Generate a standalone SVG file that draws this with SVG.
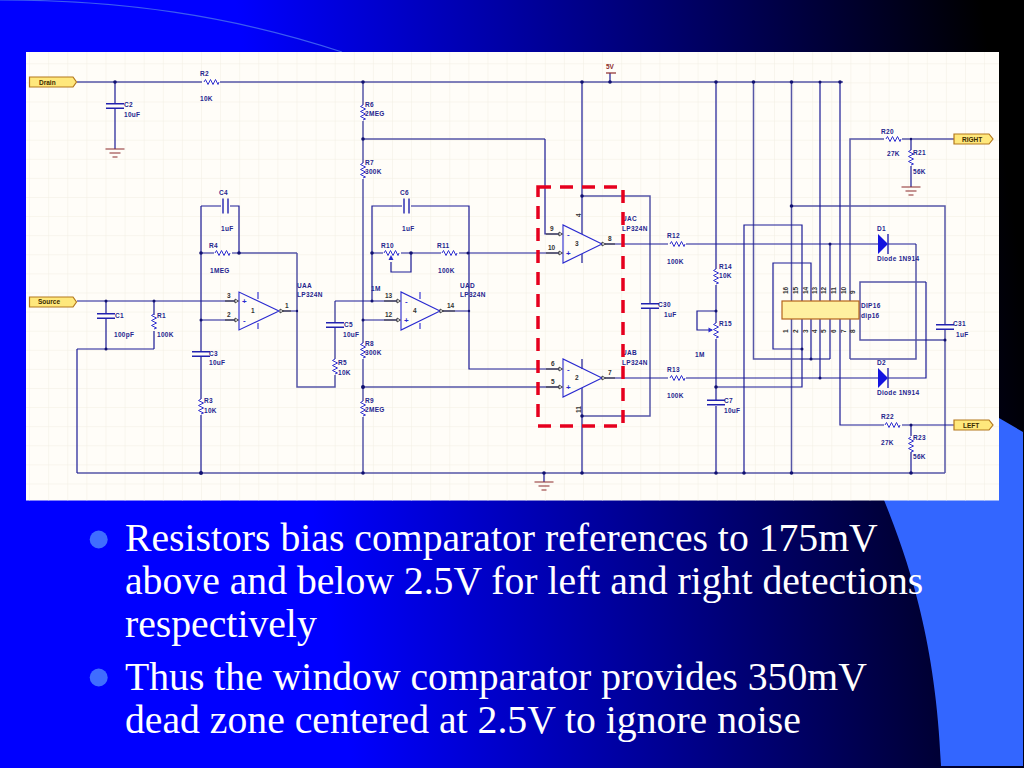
<svg xmlns="http://www.w3.org/2000/svg" width="1024" height="768" viewBox="0 0 1024 768">
<style>
.w{fill:none;stroke:#1c1c96;stroke-width:1.2}
.l{fill:none;stroke:#5656a6;stroke-width:1.5}
.p{fill:none;stroke:#333;stroke-width:1}
.o{fill:none;stroke:#2a2ad0;stroke-width:1.1}
.g{fill:none;stroke:#8c2a2a;stroke-width:1.2}
.c{fill:none;stroke:#2222b0;stroke-width:1.4}
.r{fill:none;stroke:#3030d0;stroke-width:1}
.d{fill:#101070}
.t{font:6.5px "Liberation Sans",Arial,sans-serif;font-weight:bold;fill:#25258e;letter-spacing:.3px}
.n{font:6.5px "Liberation Sans",Arial,sans-serif;font-weight:bold;fill:#333}
.m{font:bold 8px "Liberation Sans",Arial,sans-serif;fill:#2a2ad0}
.y{fill:#ffe87c;stroke:#b4781c;stroke-width:1.2}
.b{font:bold 6.5px "Liberation Sans",Arial,sans-serif;fill:#3a2a00}
.s{font:39.7px "Liberation Serif","Times New Roman",serif;fill:#fff}
</style>
<defs>
<linearGradient id="bg" gradientUnits="userSpaceOnUse" x1="280" y1="300" x2="1010" y2="190">
<stop offset="0" stop-color="#0000ff"/><stop offset="1" stop-color="#000000"/>
</linearGradient>
<pattern id="grid" patternUnits="userSpaceOnUse" x="10" y="6" width="19.1" height="19.1">
<path d="M0 0H19.1M0 0V19.1" fill="none" stroke="#f1eee2" stroke-width="1"/>
</pattern>
<g id="rh"><path class="r" d="M-7 0l1.5-2.5 2.5 5 2.5-5 2.5 5 2.5-5 2.5 5 1 -2.5"/></g>
<g id="rv"><path class="r" d="M0-7l-2.5 1.5 5 2.5-5 2.5 5 2.5-5 2.5 5 2.5-2.5 1"/></g>
<g id="cv"><path class="c" d="M-9-2.2H9M-9 2.2H9"/></g>
<g id="ch"><path class="c" d="M-2.5-7.5V7.5M2.5-7.5V7.5"/></g>
<g id="gnd"><path class="g" d="M-9.5 0H9.5M-5.5 4H5.5M-2.5 8H2.5"/></g>
<g id="pin"><path d="M0-2L3.5 0 0 2Z" fill="#fff" stroke="#222" stroke-width=".8"/></g>
</defs>

<g id="background">
<rect width="1024" height="768" fill="url(#bg)"/>
<path d="M884 500C908 560 936 640 941 766H1023V432L999 418V500Z" fill="#3366ff"/>
<path d="M0 0C120 0 230 15 342 52" fill="none" stroke="#3c5cf0" stroke-width="1.2"/>
</g>

<g id="panel">
<rect x="26" y="52" width="973" height="448.500" fill="#fffdf8"/>
<rect x="26" y="52" width="973" height="448.500" fill="url(#grid)"/>
</g>

<g id="connectors">
<path class="l" d="M77 82H843M850 359V139H954M916 244V359H850M753.500 82V359H830M791.500 82V473M363 139H545M791.500 206H945V473M297 253V387H335V301M363 387H560M77 473H945M582 196H650V416H582M239 253H297M363 82V473M926 282H860V340H945"/>
<path class="w" d="M77 301H237M106 301V349M154 301V349M77 349H154M77 349V473M115 82V149M201 206V473M201 206H239V253M201 253H239M201 320H237M297 311H280M335 301H398M372 301V206H469V369H560M363 320H398M545 139V234H560M372 253H560M411 253V272H391V262M440 311H469M582 82V234M582 254V263M582 359V369M582 388V473M605 244H878M888 244H916M605 378H878M888 378H926V282M716 82V473M716 311H697V330H712M716 387H802V319M744 473V225H802V301M811 301V263H773V349H802M811 319V359M820 82V378M830 244V301M830 319V359M840 82V425H954M911 139V187M911 425V473M610 82V73M544 473V482"/>
<path class="p" d="M225 301H237M225 320H237M280 311H291M384 301H398M384 320H398M440 311H455M546 234H560M546 253H560M605 244H615M546 369H560M546 387H560M605 378H615"/>
</g>

<g id="junctions" class="d">
<circle cx="115" cy="82" r="1.800"/><circle cx="363" cy="82" r="1.800"/><circle cx="582" cy="82" r="1.800"/><circle cx="610" cy="82" r="1.800"/><circle cx="716" cy="82" r="1.800"/><circle cx="753.500" cy="82" r="1.800"/><circle cx="791.500" cy="82" r="1.800"/><circle cx="820" cy="82" r="1.500"/><circle cx="840" cy="82" r="1.800"/>
<circle cx="106" cy="301" r="1.500"/><circle cx="154" cy="301" r="1.500"/><circle cx="106" cy="349" r="1.500"/><circle cx="201" cy="253" r="1.800"/><circle cx="239" cy="253" r="1.800"/><circle cx="201" cy="320" r="1.500"/><circle cx="297" cy="311" r="1.200"/>
<circle cx="201" cy="473" r="2"/><circle cx="363" cy="473" r="1.800"/><circle cx="544" cy="473" r="1.800"/><circle cx="582" cy="473" r="1.800"/><circle cx="716" cy="473" r="1.800"/><circle cx="744" cy="473" r="1.800"/><circle cx="791.500" cy="473" r="1.800"/><circle cx="911" cy="473" r="1.800"/>
<circle cx="363" cy="139" r="1.800"/><circle cx="363" cy="320" r="1.500"/><circle cx="363" cy="387" r="2"/><circle cx="372" cy="301" r="1.500"/><circle cx="372" cy="253" r="1.800"/><circle cx="411" cy="253" r="1.800"/><circle cx="468" cy="253" r="1.500"/><circle cx="469" cy="311" r="1.200"/>
<circle cx="582" cy="196" r="1.800"/><circle cx="582" cy="416" r="1.800"/><circle cx="716" cy="311" r="1.500"/><circle cx="716" cy="387" r="1.800"/><circle cx="791.500" cy="206" r="1.800"/><circle cx="830" cy="244" r="1.500"/><circle cx="820" cy="378" r="1.500"/><circle cx="811" cy="359" r="1.500"/><circle cx="802" cy="349" r="1.500"/><circle cx="945" cy="340" r="1.500"/><circle cx="911" cy="425" r="1.500"/><circle cx="911" cy="139" r="1.200"/>
</g>

<g id="Drain"><path class="y" d="M29.500 77H73L76.500 82 73 87H29.500Z"/><text class="b" x="39" y="85">Drain</text></g>
<g id="Source"><path class="y" d="M29.500 297H73L76.500 302 73 307H29.500Z"/><text class="b" x="38" y="304">Source</text></g>
<g id="RIGHT"><path class="y" d="M954 134H989L993 139 989 144H954Z"/><text class="b" x="962" y="142">RIGHT</text></g>
<g id="LEFT"><path class="y" d="M954 420H989L993 425 989 430H954Z"/><text class="b" x="963" y="428">LEFT</text></g>

<g id="V5"><path class="g" d="M606 73H616"/><text x="606" y="69" style="font:bold 6.500px 'Liberation Sans',sans-serif;fill:#8c2a2a">5V</text></g>
<use id="GND1" href="#gnd" x="115" y="149"/>
<use id="GND2" href="#gnd" x="911" y="187"/>
<use id="GND3" href="#gnd" x="544" y="482"/>

<g id="R2"><rect x="202" y="80" width="18" height="4" fill="#fffdf8"/><use href="#rh" x="211" y="82"/><text class="t" x="200" y="76">R2</text><text class="t" x="200" y="101">10K</text></g>
<g id="C2"><rect x="113" y="103" width="4" height="6" fill="#fffdf8"/><use href="#cv" x="115" y="106"/><text class="t" x="124" y="107">C2</text><text class="t" x="124" y="117">10uF</text></g>
<g id="C4"><rect x="221" y="204" width="9" height="4" fill="#fffdf8"/><use href="#ch" x="225.500" y="206"/><text class="t" x="219" y="195">C4</text><text class="t" x="221" y="231">1uF</text></g>
<g id="R4"><rect x="214" y="251" width="18" height="4" fill="#fffdf8"/><use href="#rh" x="222" y="253"/><text class="t" x="209" y="248">R4</text><text class="t" x="210" y="273">1MEG</text></g>
<g id="C1"><rect x="104" y="314" width="4" height="5" fill="#fffdf8"/><use href="#cv" x="106" y="316"/><text class="t" x="115" y="318">C1</text><text class="t" x="114" y="337">100pF</text></g>
<g id="R1"><rect x="152" y="315" width="4" height="16" fill="#fffdf8"/><use href="#rv" x="154" y="321"/><text class="t" x="157" y="318">R1</text><text class="t" x="157" y="337">100K</text></g>
<g id="C3"><rect x="199" y="351" width="4" height="6" fill="#fffdf8"/><use href="#cv" x="201" y="354"/><text class="t" x="209" y="356">C3</text><text class="t" x="209" y="365">10uF</text></g>
<g id="R3"><rect x="199" y="399" width="4" height="16" fill="#fffdf8"/><use href="#rv" x="201" y="406"/><text class="t" x="204" y="403">R3</text><text class="t" x="204" y="413">10K</text></g>
<g id="C5"><rect x="333" y="323" width="4" height="5" fill="#fffdf8"/><use href="#cv" x="335" y="325"/><text class="t" x="344" y="327">C5</text><text class="t" x="343" y="337">10uF</text></g>
<g id="R5"><rect x="333" y="359" width="4" height="16" fill="#fffdf8"/><use href="#rv" x="335" y="366"/><text class="t" x="338" y="365">R5</text><text class="t" x="338" y="375">10K</text></g>
<g id="R6"><rect x="361" y="105" width="4" height="16" fill="#fffdf8"/><use href="#rv" x="363" y="112"/><text class="t" x="365" y="107">R6</text><text class="t" x="365" y="116">2MEG</text></g>
<g id="R7"><rect x="361" y="163" width="4" height="16" fill="#fffdf8"/><use href="#rv" x="363" y="170"/><text class="t" x="365" y="165">R7</text><text class="t" x="365" y="174">300K</text></g>
<g id="R8"><rect x="361" y="343" width="4" height="16" fill="#fffdf8"/><use href="#rv" x="363" y="350"/><text class="t" x="365" y="346">R8</text><text class="t" x="365" y="355">300K</text></g>
<g id="R9"><rect x="361" y="401" width="4" height="16" fill="#fffdf8"/><use href="#rv" x="363" y="408"/><text class="t" x="365" y="403">R9</text><text class="t" x="365" y="412">2MEG</text></g>
<g id="C6"><rect x="402" y="204" width="9" height="4" fill="#fffdf8"/><use href="#ch" x="406.500" y="206"/><text class="t" x="400" y="195">C6</text><text class="t" x="402" y="231">1uF</text></g>
<g id="R10"><rect x="383" y="251" width="18" height="4" fill="#fffdf8"/><use href="#rh" x="391" y="253"/><path d="M391 255L388.500 260H393.500Z" fill="#2a2ad0"/><text class="t" x="381" y="248">R10</text></g>
<g id="R11"><rect x="441" y="251" width="18" height="4" fill="#fffdf8"/><use href="#rh" x="449" y="253"/><text class="t" x="437" y="248">R11</text><text class="t" x="438" y="273">100K</text></g>
<text id="R_1M" class="t" x="371" y="291">1M</text>
<g id="C30"><rect x="648" y="304" width="4" height="5" fill="#fffdf8"/><use href="#cv" x="650" y="306"/><text class="t" x="658" y="307">C30</text><text class="t" x="664" y="317">1uF</text></g>
<g id="R12"><rect x="668" y="242" width="18" height="4" fill="#fffdf8"/><use href="#rh" x="677" y="244"/><text class="t" x="667" y="238">R12</text><text class="t" x="667" y="264">100K</text></g>
<g id="R13"><rect x="668" y="376" width="18" height="4" fill="#fffdf8"/><use href="#rh" x="677" y="378"/><text class="t" x="667" y="372">R13</text><text class="t" x="667" y="398">100K</text></g>
<g id="R14"><rect x="714" y="269" width="4" height="16" fill="#fffdf8"/><use href="#rv" x="716" y="276"/><text class="t" x="719" y="269">R14</text><text class="t" x="719" y="278">10K</text></g>
<g id="R15"><rect x="714" y="323" width="4" height="16" fill="#fffdf8"/><use href="#rv" x="716" y="330"/><path d="M713 330L708.500 327.500V332.500Z" fill="#2a2ad0"/><text class="t" x="719" y="326">R15</text><text class="t" x="695" y="357">1M</text></g>
<g id="C7"><rect x="714" y="400" width="4" height="6" fill="#fffdf8"/><use href="#cv" x="716" y="402.500"/><text class="t" x="724" y="403">C7</text><text class="t" x="724" y="413">10uF</text></g>
<g id="R20"><rect x="884" y="137" width="18" height="4" fill="#fffdf8"/><use href="#rh" x="893" y="139"/><text class="t" x="881" y="134">R20</text><text class="t" x="887" y="156">27K</text></g>
<g id="R21"><rect x="909" y="150" width="4" height="16" fill="#fffdf8"/><use href="#rv" x="911" y="157"/><text class="t" x="913" y="155">R21</text><text class="t" x="913" y="174">56K</text></g>
<g id="R22"><rect x="884" y="423" width="18" height="4" fill="#fffdf8"/><use href="#rh" x="892" y="425"/><text class="t" x="881" y="419">R22</text><text class="t" x="881" y="445">27K</text></g>
<g id="R23"><rect x="909" y="436" width="4" height="16" fill="#fffdf8"/><use href="#rv" x="911" y="444"/><text class="t" x="913" y="440">R23</text><text class="t" x="913" y="459">56K</text></g>
<g id="C31"><rect x="943" y="325" width="4" height="5" fill="#fffdf8"/><use href="#cv" x="945" y="327"/><text class="t" x="953" y="326">C31</text><text class="t" x="956" y="337">1uF</text></g>

<g id="D1"><path d="M878 234L888 244 878 254Z" fill="#1414e0"/><path class="c" d="M888 234V254"/><text class="t" x="877" y="231">D1</text><text class="t" x="877" y="261">Diode 1N914</text></g>
<g id="D2"><path d="M878 368L888 378 878 388Z" fill="#1414e0"/><path class="c" d="M888 368V388"/><text class="t" x="877" y="365">D2</text><text class="t" x="877" y="395">Diode 1N914</text></g>

<g id="UAA"><path class="o" d="M239 292V330L279 311ZM258 292V299M258 323V329"/><use href="#pin" x="235" y="301"/><use href="#pin" x="235" y="320"/><use href="#pin" x="280" y="311"/><text class="m" x="242" y="304">+</text><text class="m" x="243" y="323">-</text><text class="n" x="251" y="313">1</text><text class="n" x="227" y="298">3</text><text class="n" x="227" y="317">2</text><text class="n" x="285" y="308">1</text><text class="t" x="297" y="288">UAA</text><text class="t" x="297" y="297">LP324N</text></g>
<g id="UAD"><path class="o" d="M401 292V330L440 311ZM420 292V299M420 323V329"/><use href="#pin" x="397" y="301"/><use href="#pin" x="397" y="320"/><use href="#pin" x="440" y="311"/><text class="m" x="405" y="304">-</text><text class="m" x="404" y="323">+</text><text class="n" x="413" y="313">4</text><text class="n" x="385" y="298">13</text><text class="n" x="385" y="317">12</text><text class="n" x="447" y="308">14</text><text class="t" x="460" y="288">UAD</text><text class="t" x="460" y="297">LP324N</text></g>
<g id="UAC"><path class="o" d="M563 225V263L602 244Z"/><use href="#pin" x="559" y="234"/><use href="#pin" x="559" y="253"/><use href="#pin" x="602" y="244"/><text class="m" x="567" y="237">-</text><text class="m" x="566" y="256">+</text><text class="n" x="575" y="246">3</text><text class="n" x="550" y="231">9</text><text class="n" x="548" y="250">10</text><text class="n" x="608" y="241">8</text><text class="n" transform="translate(581 217) rotate(-90)">4</text><text class="t" x="622" y="221">UAC</text><text class="t" x="622" y="231">LP324N</text></g>
<g id="UAB"><path class="o" d="M563 359V397L602 378Z"/><use href="#pin" x="559" y="369"/><use href="#pin" x="559" y="387"/><use href="#pin" x="602" y="378"/><text class="m" x="567" y="372">-</text><text class="m" x="566" y="390">+</text><text class="n" x="575" y="380">2</text><text class="n" x="551" y="366">6</text><text class="n" x="551" y="384">5</text><text class="n" x="608" y="375">7</text><text class="n" transform="translate(581 413) rotate(-90)">11</text><text class="t" x="622" y="355">UAB</text><text class="t" x="622" y="365">LP324N</text></g>

<g id="DIP16"><rect x="782" y="301" width="77" height="18" fill="#fff0a0" stroke="#b4641c" stroke-width="1.200"/>
<g class="n"><text transform="translate(788 294) rotate(-90)">16</text><text transform="translate(798 294) rotate(-90)">15</text><text transform="translate(808 294) rotate(-90)">14</text><text transform="translate(817 294) rotate(-90)">13</text><text transform="translate(826 294) rotate(-90)">12</text><text transform="translate(836 294) rotate(-90)">11</text><text transform="translate(846 294) rotate(-90)">10</text><text transform="translate(855 294) rotate(-90)">9</text>
<text transform="translate(788 333) rotate(-90)">1</text><text transform="translate(798 333) rotate(-90)">2</text><text transform="translate(808 333) rotate(-90)">3</text><text transform="translate(817 333) rotate(-90)">4</text><text transform="translate(826 333) rotate(-90)">5</text><text transform="translate(836 333) rotate(-90)">6</text><text transform="translate(846 333) rotate(-90)">7</text><text transform="translate(855 333) rotate(-90)">8</text></g>
<text class="t" x="861" y="308">DIP16</text><text class="t" x="861" y="318">dip16</text></g>

<rect id="window-highlight" x="538" y="187" width="85" height="239" fill="none" stroke="#e6001e" stroke-width="3.500" stroke-dasharray="13 9"/>

<g id="caption">
<circle cx="98.700" cy="539.500" r="9" fill="#3f6dff"/><circle cx="98.700" cy="677.500" r="9" fill="#3f6dff"/>
<text class="s" x="125" y="551">Resistors bias comparator references to 175mV</text>
<text class="s" x="125" y="594">above and below 2.5V for left and right detections</text>
<text class="s" x="125" y="637">respectively</text>
<text class="s" x="125" y="690">Thus the window comparator provides 350mV</text>
<text class="s" x="125" y="733">dead zone centered at 2.5V to ignore noise</text>
</g>
</svg>
